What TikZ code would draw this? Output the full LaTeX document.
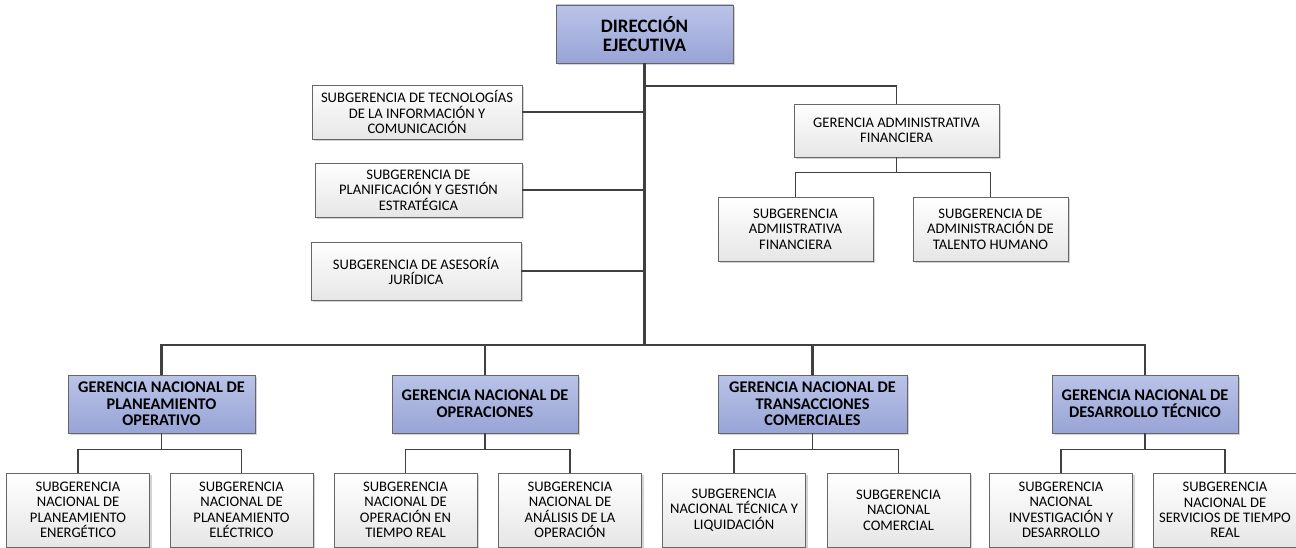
\documentclass[tikz,border=0pt]{standalone}
\usepackage{fontspec}
\setmainfont{Carlito}
\usetikzlibrary{shadows}
\definecolor{gerTop}{HTML}{BAC3E8}
\definecolor{gerBot}{HTML}{98A4D6}
\definecolor{subBot}{HTML}{E6E6E6}
\definecolor{lineGray}{HTML}{404040}
\tikzset{
	orgnode/.style = {align=center, inner sep=0pt, text centered,
		draw=lineGray!80, line width=0.8pt,
		drop shadow={shadow xshift=2pt, shadow yshift=-2pt, opacity=0.35}},
	ger_b/.style = {orgnode, top color=gerTop, bottom color=gerBot,
		font=\fontsize{16.3}{16.6}\selectfont\bfseries},% gerencia, caja azul
	sub_w/.style = {orgnode, top color=white, bottom color=subBot,
		font=\fontsize{14.6}{15.4}\selectfont},% subgerencia, caja blanca
	link/.style = {draw=lineGray, line width=1.7pt},
	trunk/.style = {draw=lineGray, line width=2.8pt}
}
\begin{document}
\begin{tikzpicture}[x=1pt,y=-1pt]
	\useasboundingbox (0,0) rectangle (1296,548);
	% direccion y staff
	\node [ger_b, minimum width=177pt, minimum height=58pt,
		font=\fontsize{19}{19}\selectfont\bfseries] (dir) at (644.5,34)
		{DIRECCIÓN\\EJECUTIVA};
	\node [sub_w, minimum width=210pt, minimum height=54pt] (tic) at (417,112)
		{SUBGERENCIA DE TECNOLOGÍAS\\DE LA INFORMACIÓN Y\\COMUNICACIÓN};
	\node [sub_w, minimum width=207pt, minimum height=54pt] (plan) at (418.5,190)
		{SUBGERENCIA DE\\PLANIFICACIÓN Y GESTIÓN\\ESTRATÉGICA};
	\node [sub_w, minimum width=210pt, minimum height=58pt] (ases) at (416,271)
		{SUBGERENCIA DE ASESORÍA\\JURÍDICA};
	% gerencia administrativa
	\node [sub_w, minimum width=205pt, minimum height=53pt] (gaf) at (896.5,130.5)
		{GERENCIA ADMINISTRATIVA\\FINANCIERA};
	\node [sub_w, minimum width=155pt, minimum height=64pt] (saf) at (795.5,229)
		{SUBGERENCIA\\ADMIISTRATIVA\\FINANCIERA};
	\node [sub_w, minimum width=155pt, minimum height=64pt] (sth) at (990.5,229)
		{SUBGERENCIA DE\\ADMINISTRACIÓN DE\\TALENTO HUMANO};
	% gerencias nacionales
	\node [ger_b, minimum width=187pt, minimum height=58pt] (gpo) at (161.5,404)
		{GERENCIA NACIONAL DE\\PLANEAMIENTO\\OPERATIVO};
	\node [ger_b, minimum width=186pt, minimum height=58pt] (gop) at (485,404)
		{GERENCIA NACIONAL DE\\OPERACIONES};
	\node [ger_b, minimum width=189pt, minimum height=58pt] (gtc) at (812.5,404)
		{GERENCIA NACIONAL DE\\TRANSACCIONES\\COMERCIALES};
	\node [ger_b, minimum width=186pt, minimum height=58pt] (gdt) at (1145,404)
		{GERENCIA NACIONAL DE\\DESARROLLO TÉCNICO};
	% subgerencias nacionales
	\begin{scope}[every node/.append style={sub_w, minimum width=143pt, minimum height=74pt}]
		\node (spe) at (78,510) {SUBGERENCIA\\NACIONAL DE\\PLANEAMIENTO\\ENERGÉTICO};
		\node (spl) at (241.5,510) {SUBGERENCIA\\NACIONAL DE\\PLANEAMIENTO\\ELÉCTRICO};
		\node (sot) at (405.5,510) {SUBGERENCIA\\NACIONAL DE\\OPERACIÓN EN\\TIEMPO REAL};
		\node (san) at (570,510) {SUBGERENCIA\\NACIONAL DE\\ANÁLISIS DE LA\\OPERACIÓN};
		\node (stl) at (734,510) {SUBGERENCIA\\NACIONAL TÉCNICA Y\\LIQUIDACIÓN};
		\node (scm) at (898.5,510) {SUBGERENCIA\\NACIONAL\\COMERCIAL};
		\node (sid) at (1061,510) {SUBGERENCIA\\NACIONAL\\INVESTIGACIÓN Y\\DESARROLLO};
		\node (sst) at (1225,510) {SUBGERENCIA\\NACIONAL DE\\SERVICIOS DE TIEMPO\\REAL};
	\end{scope}
	% conectores
	\coordinate (bus) at (644.5,345);
	\draw [trunk] (dir.south) -- (bus);
	\draw [trunk] (gpo.north) |- (bus) -| (gdt.north);
	\draw [trunk] (gop.north) -- (gop.north |- bus);
	\draw [trunk] (gtc.north) -- (gtc.north |- bus);
	\draw [link] (tic.east) -- (tic.east -| dir.south);
	\draw [link] (plan.east) -- (plan.east -| dir.south);
	\draw [link] (ases.east) -- (ases.east -| dir.south);
	\draw [link] (dir.south |- 0,86) -| (gaf.north);
	\draw [link] (gaf.south) -- ++(0,15) coordinate (gafc);
	\draw [link] (saf.north) |- (gafc) -| (sth.north);
	\foreach \g/\a/\b in {gpo/spe/spl, gop/sot/san, gtc/stl/scm, gdt/sid/sst}{
		\draw [link] (\g.south) -- ++(0,16) coordinate (\g c);
		\draw [link] (\a.north) |- (\g c) -| (\b.north);
	}
\end{tikzpicture}
\end{document}
